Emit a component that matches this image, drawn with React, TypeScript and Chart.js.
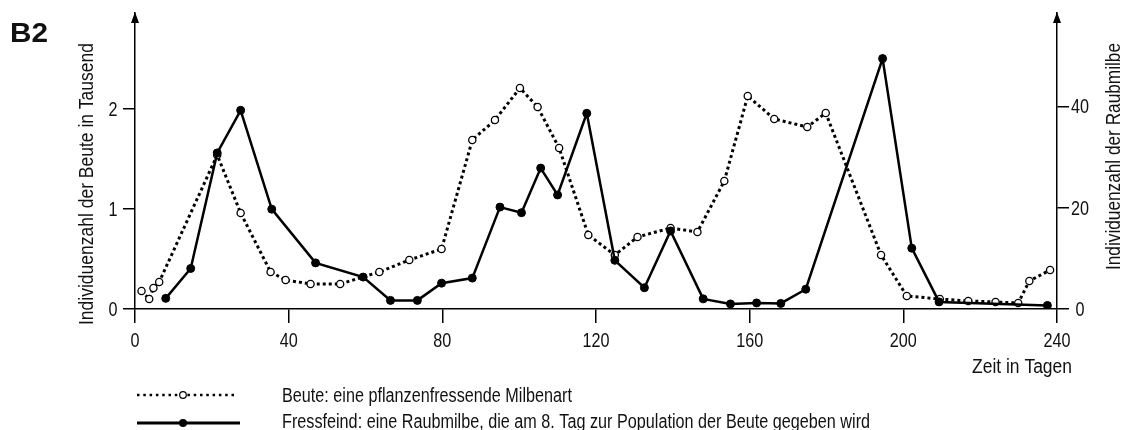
import React, { useEffect, useRef } from "react";
import { Chart, registerables } from "chart.js";

Chart.register(...registerables);

// Beute (prey) – thousands, left axis
const preyDays = [1.7, 3.7, 4.8, 6.3, 21.4, 27.5, 35.3, 39.2, 45.7, 53.4, 63.6, 71.4, 79.8, 87.8, 93.7, 100.2, 104.8, 110.4, 118.0, 124.9, 130.8, 139.4, 146.4, 153.4, 159.5, 166.4, 175.0, 179.8, 194.2, 200.9, 209.5, 216.9, 224.0, 229.9, 232.8, 238.2];
const preyValues = [0.18, 0.10, 0.21, 0.27, 1.54, 0.96, 0.37, 0.29, 0.25, 0.25, 0.37, 0.49, 0.60, 1.69, 1.89, 2.21, 2.02, 1.61, 0.74, 0.54, 0.72, 0.81, 0.77, 1.28, 2.13, 1.90, 1.82, 1.96, 0.54, 0.13, 0.10, 0.08, 0.07, 0.06, 0.28, 0.39];

// Fressfeind (predator) – individuals, right axis
const predDays = [8.0, 14.5, 21.4, 27.5, 35.6, 47.0, 59.4, 66.5, 73.5, 79.8, 87.8, 95.0, 100.6, 105.6, 110.0, 117.6, 124.9, 132.6, 139.4, 147.9, 155.0, 161.8, 168.1, 174.6, 194.6, 202.2, 209.3, 237.5];
const predValues = [2.1, 8.0, 30.8, 39.2, 19.7, 9.1, 6.3, 1.7, 1.7, 5.1, 6.1, 20.1, 19.0, 27.8, 22.5, 38.6, 9.6, 4.2, 15.4, 2.0, 1.0, 1.2, 1.1, 3.9, 49.4, 12.0, 1.4, 0.7];

const xTicks = [0, 40, 80, 120, 160, 200, 240];
const leftTicks = [0, 1, 2];
const rightTicks = [0, 20, 40];

const label = "B2";
const leftTitle = "Individuenzahl der Beute in Tausend";
const rightTitle = "Individuenzahl der Raubmilbe";
const xTitle = "Zeit in Tagen";
const legendPrey = "Beute: eine pflanzenfressende Milbenart";
const legendPred = "Fressfeind: eine Raubmilbe, die am 8. Tag zur Population der Beute gegeben wird";

const FAMILY = "'Liberation Sans', Arial, sans-serif";
const FONT = "20px " + FAMILY;
const NARROW = 0.81;
const TEXT = "#111";

// draw text horizontally condensed (Arial Narrow look); either fixed scale or fitted width
function drawText(
  ctx: CanvasRenderingContext2D,
  text: string,
  x: number,
  y: number,
  opts: { width?: number; sx?: number; font?: string; align?: "left" | "right" | "center"; rot?: number } = {}
) {
  ctx.save();
  ctx.font = opts.font || FONT;
  ctx.textBaseline = "alphabetic";
  ctx.textAlign = "left";
  const w = ctx.measureText(text).width;
  const sx = opts.width ? opts.width / w : opts.sx ?? NARROW;
  ctx.translate(x, y);
  if (opts.rot) ctx.rotate(opts.rot);
  ctx.scale(sx, 1);
  const align = opts.align || "left";
  const off = align === "right" ? -w : align === "center" ? -w / 2 : 0;
  ctx.fillText(text, off, 0);
  ctx.restore();
}

const decorPlugin = {
  id: "decor",
  afterDraw(chart: any) {
    const ctx: CanvasRenderingContext2D = chart.ctx;
    const { left, right, top } = chart.chartArea;
    ctx.save();
    ctx.fillStyle = "#000";
    for (const x of [left, right]) {
      ctx.beginPath();
      ctx.moveTo(x, top - 1);
      ctx.lineTo(x - 4, top + 10);
      ctx.lineTo(x + 4, top + 10);
      ctx.closePath();
      ctx.fill();
    }

    // tick labels from the library's scales
    ctx.fillStyle = TEXT;
    const xs = chart.scales.x;
    for (const t of xs.ticks) {
      drawText(ctx, String(t.value), xs.getPixelForValue(t.value), 347, { align: "center" });
    }
    const ys = chart.scales.y;
    for (const t of ys.ticks) {
      drawText(ctx, String(t.value), 113, ys.getPixelForValue(t.value) + 7, { align: "center" });
    }
    const ys1 = chart.scales.y1;
    for (const t of ys1.ticks) {
      drawText(ctx, String(t.value), 1080, ys1.getPixelForValue(t.value) + 7, { align: "center" });
    }

    drawText(ctx, label, 10, 42, { width: 38, font: "bold 28px " + FAMILY });
    drawText(ctx, leftTitle, 93, 325, { width: 282, rot: -Math.PI / 2 });
    drawText(ctx, rightTitle, 1120, 270, { width: 227, rot: -Math.PI / 2 });
    drawText(ctx, xTitle, 1072, 373, { width: 100, align: "right" });

    // legend
    ctx.strokeStyle = "#000";
    ctx.lineWidth = 2.5;
    ctx.setLineDash([2.5, 3.8]);
    ctx.beginPath();
    ctx.moveTo(137, 395);
    ctx.lineTo(237, 395);
    ctx.stroke();
    ctx.setLineDash([]);
    ctx.beginPath();
    ctx.arc(183, 395, 3.3, 0, Math.PI * 2);
    ctx.fillStyle = "#fff";
    ctx.fill();
    ctx.lineWidth = 1.2;
    ctx.stroke();

    ctx.lineWidth = 3;
    ctx.beginPath();
    ctx.moveTo(137, 423);
    ctx.lineTo(240, 423);
    ctx.stroke();
    ctx.beginPath();
    ctx.arc(183, 423, 4, 0, Math.PI * 2);
    ctx.fillStyle = "#000";
    ctx.fill();

    ctx.fillStyle = TEXT;
    drawText(ctx, legendPrey, 282, 402);
    drawText(ctx, legendPred, 282, 428);
    ctx.restore();
  },
};

export default function App() {
  const ref = useRef<HTMLCanvasElement>(null);
  useEffect(() => {
    if (!ref.current) return;
    const gridOpts = (len: number) => ({ drawOnChartArea: false, drawTicks: true, tickLength: len, color: "#000", lineWidth: 1.5 });
    const border = { display: true, color: "#000", width: 1.5 };
    const chart = new Chart(ref.current, {
      type: "line",
      data: {
        datasets: [
          {
            label: "Fressfeind",
            data: predDays.map((d, i) => ({ x: d, y: predValues[i] })),
            yAxisID: "y1",
            borderColor: "#000",
            borderWidth: 2.5,
            pointRadius: 4,
            pointBackgroundColor: "#000",
            pointBorderColor: "#000",
            pointBorderWidth: 1,
            tension: 0,
          },
          {
            label: "Beute",
            data: preyDays.map((d, i) => ({ x: d, y: preyValues[i] })),
            yAxisID: "y",
            borderColor: "#000",
            borderWidth: 3,
            borderDash: [3, 3],
            pointRadius: 3.6,
            pointBackgroundColor: "#fff",
            pointBorderColor: "#000",
            pointBorderWidth: 1.3,
            tension: 0,
          },
        ],
      },
      options: {
        responsive: false,
        animation: false,
        devicePixelRatio: 1,
        layout: { padding: { top: 13, left: 0, right: 0, bottom: 0 } },
        plugins: { legend: { display: false }, tooltip: { enabled: false } },
        scales: {
          x: {
            type: "linear",
            min: 0,
            max: 240,
            afterFit: (s: any) => { s.height = 121; },
            afterBuildTicks: (s: any) => { s.ticks = xTicks.map((v) => ({ value: v })); },
            grid: gridOpts(14),
            border,
            ticks: { display: false },
          },
          y: {
            type: "linear",
            position: "left",
            min: 0,
            max: 2.96,
            afterFit: (s: any) => { s.width = 135; },
            afterBuildTicks: (s: any) => { s.ticks = leftTicks.map((v) => ({ value: v })); },
            grid: gridOpts(12),
            border,
            ticks: { display: false },
          },
          y1: {
            type: "linear",
            position: "right",
            min: 0,
            max: 58.4,
            afterFit: (s: any) => { s.width = 68; },
            afterBuildTicks: (s: any) => { s.ticks = rightTicks.map((v) => ({ value: v })); },
            grid: gridOpts(12),
            border,
            ticks: { display: false },
          },
        },
      },
      plugins: [decorPlugin],
    } as any);
    return () => chart.destroy();
  }, []);
  return (
    <div style={{ position: "absolute", left: 0, top: 0, width: 1125, height: 430, background: "#fff" }}>
      <canvas ref={ref} width={1125} height={430} style={{ display: "block", width: 1125, height: 430 }} />
    </div>
  );
}
